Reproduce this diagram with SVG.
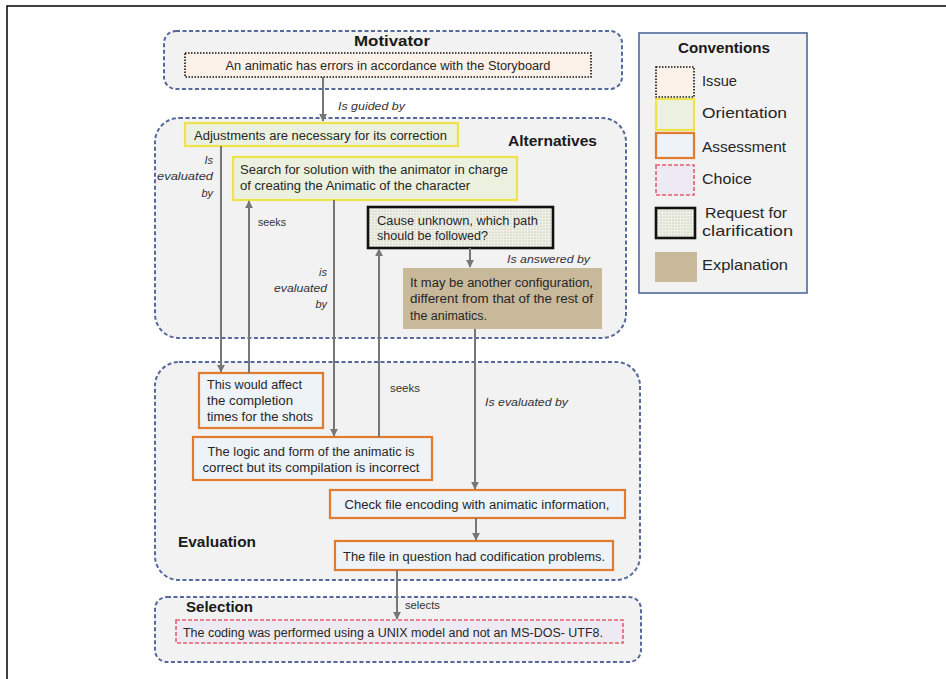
<svg xmlns="http://www.w3.org/2000/svg" width="946" height="679" viewBox="0 0 946 679">
<style>
text{font-family:"Liberation Sans",Arial,sans-serif;fill:#262626}
.t{font-size:12px}
.lbl{font-size:11px;font-style:italic;fill:#333}
.lbn{font-size:11px;fill:#333}
.ttl{font-size:15.5px;font-weight:bold;fill:#1a1a1a}
.cv{font-size:15px}
.cont{fill:#f2f2f2;stroke:#56689c;stroke-width:2;stroke-dasharray:4 2.5}
.issue{fill:#fcf1e8;stroke:#111;stroke-width:1.6;stroke-dasharray:1.5 1.5}
.orient{fill:#ebf1de;stroke:#efe34c;stroke-width:2.2}
.assess{fill:#eef3f8;stroke:#e27b2e;stroke-width:2.2}
.choice{fill:#eeeaf4;stroke:#e0606a;stroke-width:1.6;stroke-dasharray:4 2}
.req{fill:url(#dots);stroke:#111;stroke-width:2.6}
.expl{fill:#c9b99b}
.conn line{stroke:#777;stroke-width:2;fill:none}
</style>
<defs>
<pattern id="dots" width="3" height="3" patternUnits="userSpaceOnUse">
<rect width="3" height="3" fill="#eff1e6"/>
<circle cx="1" cy="1" r="0.55" fill="#a4a494"/>
</pattern>
<marker id="ah" viewBox="0 0 10 10" refX="9" refY="5" markerWidth="4" markerHeight="4" orient="auto">
<path d="M0,0 L10,5 L0,10 z" fill="#777"/>
</marker>
</defs>
<rect x="7" y="6" width="960" height="700" fill="#fff" stroke="#111" stroke-width="1.6"/>

<g id="motivator">
<rect class="cont" x="164" y="31" width="458" height="58" rx="12"/>
<text class="ttl" x="392" y="46" text-anchor="middle" textLength="76" lengthAdjust="spacingAndGlyphs">Motivator</text>
</g>
<g id="alternatives">
<rect class="cont" x="155" y="118" width="471" height="220" rx="24"/>
<text class="ttl" x="508" y="146" textLength="89" lengthAdjust="spacingAndGlyphs">Alternatives</text>
</g>
<g id="evaluation">
<rect class="cont" x="155" y="362" width="485" height="218" rx="24"/>
<text class="ttl" x="178" y="547" textLength="78" lengthAdjust="spacingAndGlyphs">Evaluation</text>
</g>
<g id="selection">
<rect class="cont" x="155" y="597" width="486" height="65" rx="12"/>
<text class="ttl" x="186" y="612" textLength="67" lengthAdjust="spacingAndGlyphs">Selection</text>
</g>

<g id="issue">
<rect class="issue" x="185" y="53" width="406" height="24"/>
<text class="t" x="388" y="70" text-anchor="middle" textLength="325" lengthAdjust="spacingAndGlyphs">An animatic has errors in accordance with the Storyboard</text>
</g>
<g id="adjustments">
<rect class="orient" x="185" y="123" width="273" height="23"/>
<text class="t" x="194" y="140" textLength="253" lengthAdjust="spacingAndGlyphs">Adjustments are necessary for its correction</text>
</g>
<g id="search">
<rect class="orient" x="233" y="157" width="284" height="43"/>
<text class="t" x="240" y="174" textLength="268" lengthAdjust="spacingAndGlyphs">Search for solution with the animator in charge</text>
<text class="t" x="240" y="190" textLength="230" lengthAdjust="spacingAndGlyphs">of creating the Animatic of the character</text>
</g>
<g id="cause">
<rect class="req" x="368" y="207" width="185" height="41"/>
<text class="t" x="377" y="225" textLength="161" lengthAdjust="spacingAndGlyphs">Cause unknown, which path</text>
<text class="t" x="377" y="240" textLength="111" lengthAdjust="spacingAndGlyphs">should be followed?</text>
</g>
<g id="explanation">
<rect class="expl" x="403" y="268" width="199" height="61"/>
<text class="t" x="410" y="287" textLength="183" lengthAdjust="spacingAndGlyphs">It may be another configuration,</text>
<text class="t" x="410" y="303" textLength="183" lengthAdjust="spacingAndGlyphs">different from that of the rest of</text>
<text class="t" x="410" y="320" textLength="77" lengthAdjust="spacingAndGlyphs">the animatics.</text>
</g>
<g id="affect">
<rect class="assess" x="199" y="373" width="124" height="55"/>
<text class="t" x="207" y="389" textLength="95" lengthAdjust="spacingAndGlyphs">This would affect</text>
<text class="t" x="207" y="405" textLength="86" lengthAdjust="spacingAndGlyphs">the completion</text>
<text class="t" x="207" y="421" textLength="106" lengthAdjust="spacingAndGlyphs">times for the shots</text>
</g>
<g id="logic">
<rect class="assess" x="193" y="437" width="239" height="43"/>
<text class="t" x="311" y="456" text-anchor="middle" textLength="207" lengthAdjust="spacingAndGlyphs">The logic and form of the animatic is</text>
<text class="t" x="311" y="472" text-anchor="middle" textLength="217" lengthAdjust="spacingAndGlyphs">correct but its compilation is incorrect</text>
</g>
<g id="check">
<rect class="assess" x="330" y="490" width="295" height="28"/>
<text class="t" x="477" y="509" text-anchor="middle" textLength="265" lengthAdjust="spacingAndGlyphs">Check file encoding with animatic information,</text>
</g>
<g id="file">
<rect class="assess" x="335" y="541" width="278" height="29"/>
<text class="t" x="474" y="561" text-anchor="middle" textLength="262" lengthAdjust="spacingAndGlyphs">The file in question had codification problems.</text>
</g>
<g id="choice">
<rect class="choice" x="176" y="620" width="447" height="23"/>
<text class="t" x="183" y="637" textLength="420" lengthAdjust="spacingAndGlyphs">The coding was performed using a UNIX model and not an MS-DOS- UTF8.</text>
</g>

<g id="connectors" class="conn">
<line x1="323" y1="77" x2="323" y2="121" marker-end="url(#ah)"/>
<line x1="221" y1="146" x2="221" y2="372" marker-end="url(#ah)"/>
<line x1="249" y1="373" x2="249" y2="201" marker-end="url(#ah)"/>
<line x1="334" y1="200" x2="334" y2="436" marker-end="url(#ah)"/>
<line x1="379" y1="437" x2="379" y2="249" marker-end="url(#ah)"/>
<line x1="470" y1="248" x2="470" y2="267" marker-end="url(#ah)"/>
<line x1="475" y1="329" x2="475" y2="489" marker-end="url(#ah)"/>
<line x1="476" y1="518" x2="476" y2="540" marker-end="url(#ah)"/>
<line x1="397" y1="570" x2="397" y2="619" marker-end="url(#ah)"/>
</g>
<g id="connector-labels">
<text class="lbl" x="338" y="110" textLength="67" lengthAdjust="spacingAndGlyphs">Is guided by</text>
<text class="lbl" x="213" y="164" text-anchor="end">Is</text>
<text class="lbl" x="213" y="180" text-anchor="end" textLength="56" lengthAdjust="spacingAndGlyphs">evaluated</text>
<text class="lbl" x="213" y="197" text-anchor="end">by</text>
<text class="lbn" x="258" y="226" textLength="28" lengthAdjust="spacingAndGlyphs">seeks</text>
<text class="lbl" x="327" y="276" text-anchor="end">is</text>
<text class="lbl" x="327" y="292" text-anchor="end" textLength="53" lengthAdjust="spacingAndGlyphs">evaluated</text>
<text class="lbl" x="327" y="308" text-anchor="end">by</text>
<text class="lbl" x="507" y="263" textLength="83" lengthAdjust="spacingAndGlyphs">Is answered by</text>
<text class="lbn" x="390" y="392" textLength="30" lengthAdjust="spacingAndGlyphs">seeks</text>
<text class="lbl" x="485" y="406" textLength="83" lengthAdjust="spacingAndGlyphs">Is evaluated by</text>
<text class="lbn" x="405" y="609" textLength="35" lengthAdjust="spacingAndGlyphs">selects</text>
</g>

<g id="conventions">
<rect x="639" y="33" width="168" height="260" fill="#f2f2f2" stroke="#4f6a9a" stroke-width="1.6"/>
<text class="ttl" x="724" y="53" text-anchor="middle" font-size="14.5" textLength="92" lengthAdjust="spacingAndGlyphs">Conventions</text>
<rect class="issue" x="656" y="67" width="38" height="30"/>
<text class="cv" x="702" y="86" textLength="35" lengthAdjust="spacingAndGlyphs">Issue</text>
<rect class="orient" x="656" y="99" width="38" height="31"/>
<text class="cv" x="702" y="118" textLength="85" lengthAdjust="spacingAndGlyphs">Orientation</text>
<rect class="assess" x="656" y="133" width="38" height="25"/>
<text class="cv" x="702" y="152" textLength="84" lengthAdjust="spacingAndGlyphs">Assessment</text>
<rect class="choice" x="656" y="165" width="38" height="30"/>
<text class="cv" x="702" y="184" textLength="50" lengthAdjust="spacingAndGlyphs">Choice</text>
<rect class="req" x="656" y="208" width="39" height="30"/>
<text class="cv" x="705" y="218" textLength="82" lengthAdjust="spacingAndGlyphs">Request for</text>
<text class="cv" x="702" y="236" textLength="91" lengthAdjust="spacingAndGlyphs">clarification</text>
<rect class="expl" x="655" y="252" width="42" height="30"/>
<text class="cv" x="702" y="270" textLength="86" lengthAdjust="spacingAndGlyphs">Explanation</text>
</g>
</svg>
